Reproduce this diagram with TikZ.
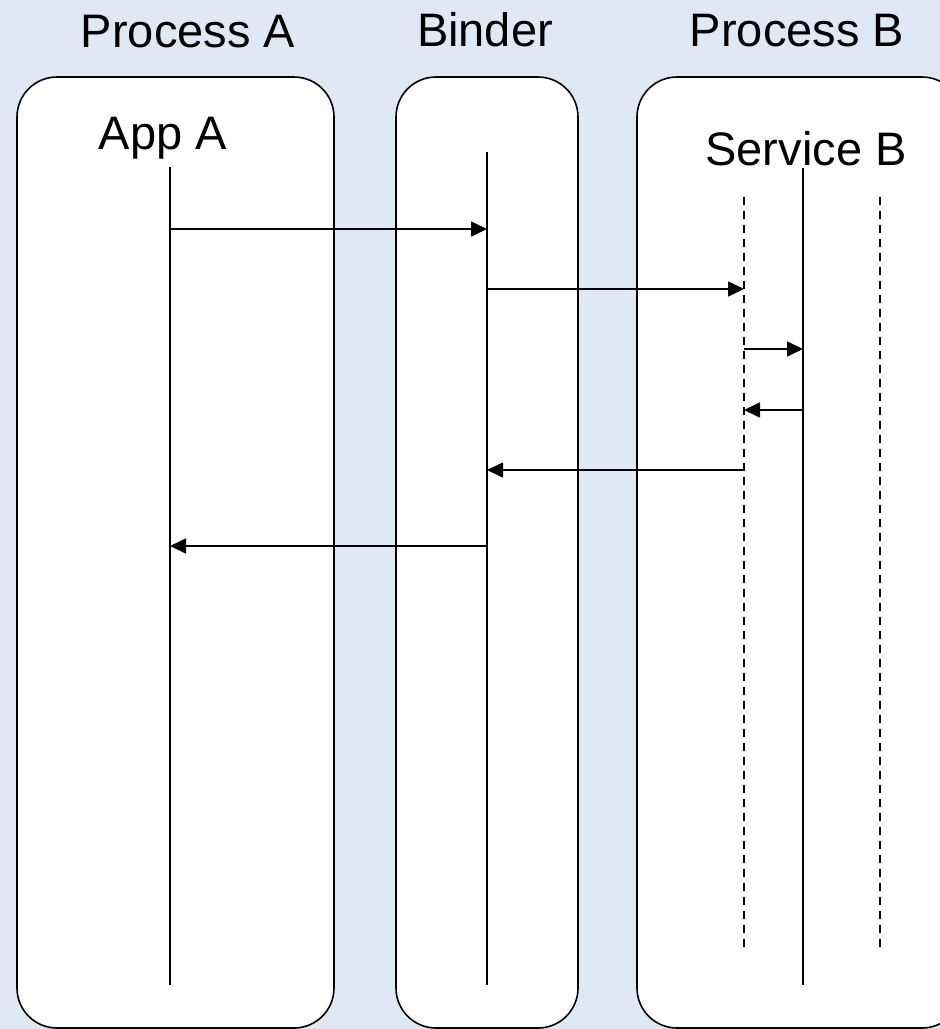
\documentclass[tikz,border=0pt]{standalone}
\usepackage{fontspec}
\setmainfont{Liberation Sans}
\usetikzlibrary{arrows.meta}
\definecolor{bgblue}{RGB}{223,232,243}
\tikzset{
  lane/.style={draw=black, line width=1.6pt, fill=white, rounded corners=40pt},
  lifeline/.style={draw=black, line width=1.6pt},
  dashline/.style={draw=black, line width=1.6pt, dash pattern=on 8pt off 6pt},
  msg/.style={draw=black, line width=1.6pt, -{Triangle[length=16pt,width=15pt]}},
  title/.style={font=\fontsize{47}{52}\selectfont, anchor=base, inner sep=0pt}
}
\begin{document}
\begin{tikzpicture}[x=1pt,y=-1pt]
\useasboundingbox (0,0) rectangle (940,1029);
\fill[bgblue] (0,0) rectangle (940,1029);
\clip (0,0) rectangle (940,1029);
% lanes
\draw[lane] (17,77) rectangle (334,1028);
\draw[lane] (396,77) rectangle (578,1028);
\draw[lane] (637,77) rectangle (962,1028);
% titles
\node[title] (tA) at (188,47) {Process A};
\node[title] (tBinder) at (485,46) {Binder};
\node[title] (tB) at (797,46) {Process B};
\node[title] (appA) at (163,149) {App A};
\node[title] (servB) at (806,165) {Service B};
% lifelines
\coordinate (aTop) at (170,167); \coordinate (aBot) at (170,985);
\coordinate (bTop) at (487,152); \coordinate (bBot) at (487,985);
\coordinate (sTop) at (803,168); \coordinate (sBot) at (803,985);
\coordinate (d1Top) at (744,197); \coordinate (d1Bot) at (744,947);
\coordinate (d2Top) at (880,197); \coordinate (d2Bot) at (880,947);
\draw[lifeline] (aTop) -- (aBot);
\draw[lifeline] (bTop) -- (bBot);
\draw[lifeline] (sTop) -- (sBot);
\draw[dashline] (d1Top) -- (d1Bot);
\draw[dashline] (d2Top) -- (d2Bot);
% message points
\coordinate (m1s) at (170,229); \coordinate (m1e) at (487,229);
\coordinate (m2s) at (487,289); \coordinate (m2e) at (744,289);
\coordinate (m3s) at (744,349); \coordinate (m3e) at (803,349);
\coordinate (m4s) at (803,410); \coordinate (m4e) at (744,410);
\coordinate (m5s) at (744,470); \coordinate (m5e) at (487,470);
\coordinate (m6s) at (487,546); \coordinate (m6e) at (170,546);
\draw[msg] (m1s) -- (m1e);
\draw[msg] (m2s) -- (m2e);
\draw[msg] (m3s) -- (m3e);
\draw[msg] (m4s) -- (m4e);
\draw[msg] (m5s) -- (m5e);
\draw[msg] (m6s) -- (m6e);
\end{tikzpicture}
\end{document}
